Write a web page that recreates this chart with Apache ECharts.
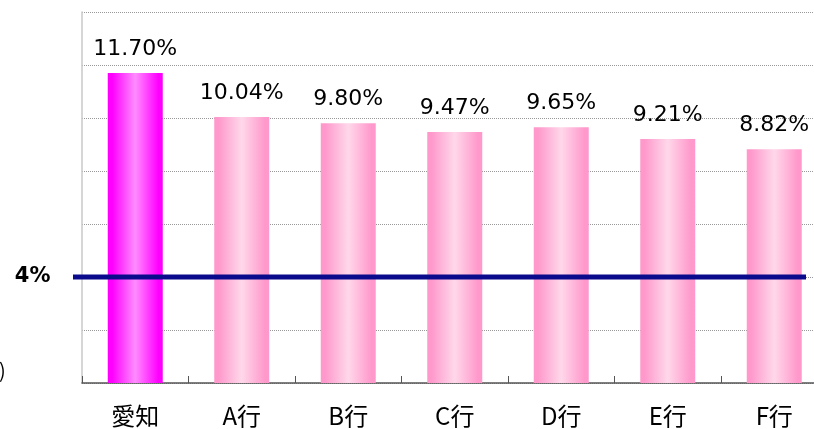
<!DOCTYPE html>
<html>
<head>
<meta charset="UTF-8">
<title>比較</title>
<script src="https://cdn.jsdelivr.net/npm/echarts@6.0.0/dist/echarts.min.js"></script>
<style>
  html, body { margin: 0; padding: 0; overflow: hidden; background: #fff; }
  #main { width: 830px; height: 429px; }
</style>
</head>
<body>
<div id="main"></div>
<script>
  // categories and values
  var categories = ['愛知', 'A行', 'B行', 'C行', 'D行', 'E行', 'F行'];
  var rates = [11.70, 10.04, 9.80, 9.47, 9.65, 9.21, 8.82];
  var baseline = 4;        // 4% reference line
  var baselineLabel = '4%';

  function hGrad(edge, mid) {
    return new echarts.graphic.LinearGradient(0, 0, 1, 0, [
      { offset: 0, color: edge },
      { offset: 0.08, color: edge },
      { offset: 0.5, color: mid },
      { offset: 0.92, color: edge },
      { offset: 1, color: edge }
    ]);
  }

  var barData = rates.map(function (v, i) {
    return {
      value: v,
      itemStyle: {
        color: i === 0 ? hGrad('#ff00ff', '#ff8cff') : hGrad('#ff99cc', '#ffd8ea')
      }
    };
  });

  var chart = echarts.init(document.getElementById('main'));
  chart.setOption({
    animation: false,
    backgroundColor: '#fff',
    grid: [
      { left: 82, top: 12, width: 745.5, height: 371 },
      { left: 73, top: 12, width: 733, height: 371 }
    ],
    xAxis: [{
      type: 'category',
      gridIndex: 0,
      data: categories,
      axisLine: { lineStyle: { color: '#555', width: 1.5 } },
      axisTick: { show: true, inside: true, length: 7, lineStyle: { color: '#555' } },
      axisLabel: {
        margin: 21,
        fontSize: 24,
        color: '#000',
        fontFamily: '"Noto Sans CJK JP", sans-serif'
      },
      splitLine: { show: false }
    }, {
      type: 'value',
      gridIndex: 1,
      min: 0,
      max: 1,
      show: false
    }],
    yAxis: [{
      type: 'value',
      gridIndex: 0,
      min: 0,
      max: 14,
      interval: 2,
      axisLine: { show: true, lineStyle: { color: '#c8c8c8', width: 1.5 } },
      axisTick: { show: false },
      axisLabel: { show: false },
      splitLine: { show: true, lineStyle: { color: '#999', type: 'dotted', width: 1 } }
    }, {
      type: 'value',
      gridIndex: 1,
      min: 0,
      max: 14,
      show: false
    }],
    graphic: [{
      type: 'text',
      left: -1,
      top: 360,
      style: { text: ')', fontSize: 20, fill: '#000', fontFamily: '"Noto Sans CJK JP", sans-serif' }
    }],
    series: [{
      type: 'bar',
      xAxisIndex: 0,
      yAxisIndex: 0,
      barWidth: 55,
      data: barData,
      label: {
        show: true,
        position: 'top',
        distance: 13,
        fontSize: 22,
        color: '#000',
        fontFamily: '"DejaVu Sans", sans-serif',
        formatter: function (p) { return p.value.toFixed(2) + '%'; }
      },
      z: 2
    }, {
      type: 'line',
      xAxisIndex: 1,
      yAxisIndex: 1,
      data: [
        {
          value: [0, baseline],
          label: {
            show: true,
            position: 'left',
            distance: 22,
            formatter: baselineLabel,
            fontSize: 21,
            fontWeight: 'bold',
            color: '#000',
            fontFamily: '"DejaVu Sans", sans-serif'
          }
        },
        [1, baseline]
      ],
      symbol: 'circle',
      symbolSize: 1,
      showSymbol: true,
      itemStyle: { color: 'rgba(0,0,0,0)' },
      lineStyle: { color: '#0a0a8c', width: 5 },
      z: 5
    }]
  });
</script>
</body>
</html>
